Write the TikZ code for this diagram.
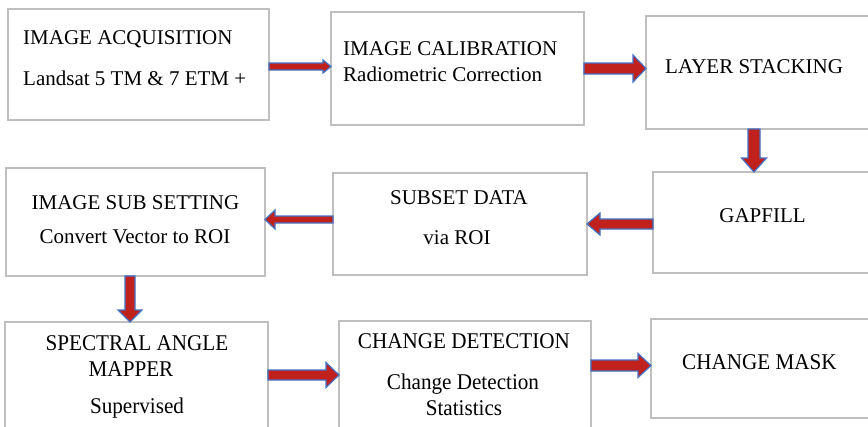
\documentclass[tikz,border=0pt]{standalone}
\usepackage{fontspec}
\setmainfont{Liberation Serif}
\newfontfamily\condfont[FakeStretch=0.94]{Liberation Serif}
\usetikzlibrary{calc}
\definecolor{arrred}{RGB}{192,33,28}
\definecolor{arrblue}{RGB}{68,114,196}
\definecolor{boxgray}{RGB}{191,191,191}
\tikzset{
  box/.style={draw=boxgray, line width=1.2pt, inner sep=0pt, outer sep=0pt, anchor=north west},
  txt/.style={inner sep=0pt, font=\fontsize{21}{25}\selectfont},
  btxt/.style={inner sep=0pt, font=\condfont\fontsize{22.5}{26}\selectfont},
  blk/.style n args={3}{fill=arrred, draw=arrblue, line width=1.2pt, line join=miter,
    to path={
      ($(\tikztostart)!#1!90:(\tikztotarget)$)
      -- ($($(\tikztotarget)!#3!(\tikztostart)$)!#1!90:(\tikztotarget)$)
      -- ($($(\tikztotarget)!#3!(\tikztostart)$)!#2!90:(\tikztotarget)$)
      -- (\tikztotarget)
      -- ($($(\tikztotarget)!#3!(\tikztostart)$)!#2!-90:(\tikztotarget)$)
      -- ($($(\tikztotarget)!#3!(\tikztostart)$)!#1!-90:(\tikztotarget)$)
      -- ($(\tikztostart)!#1!-90:(\tikztotarget)$)
      -- cycle
    }}
}
\begin{document}
\begin{tikzpicture}[x=1pt,y=-1pt]
\useasboundingbox (0,0) rectangle (868,426);
\clip (0,0) rectangle (868,426);
% boxes
\node[box, minimum width=261pt, minimum height=111pt] (b1) at (8,9) {};
\node[box, minimum width=253pt, minimum height=113pt] (b2) at (331,12) {};
\node[box, minimum width=260pt, minimum height=113pt] (b3) at (646,16) {};
\node[box, minimum width=250pt, minimum height=101pt] (b4) at (653,172) {};
\node[box, minimum width=254pt, minimum height=102pt] (b5) at (333,173) {};
\node[box, minimum width=259pt, minimum height=108pt] (b6) at (6,168) {};
\node[box, minimum width=263pt, minimum height=106pt] (b7) at (5,322) {};
\node[box, minimum width=252pt, minimum height=120pt] (b8) at (339,321) {};
\node[box, minimum width=250pt, minimum height=99pt] (b9) at (651,319) {};
% texts
\node[txt, anchor=base west] (t1a) at (23,44) {IMAGE ACQUISITION};
\node[txt, anchor=base west] (t1b) at (23,85) {Landsat 5 TM \& 7 ETM +};
\node[txt, anchor=base west] (t2a) at (343,55) {IMAGE CALIBRATION};
\node[txt, anchor=base west] (t2b) at (343,81) {Radiometric Correction};
\node[txt, anchor=base west] (t3) at (665,73) {LAYER STACKING};
\node[txt, anchor=base] (t4) at (762.5,222) {GAPFILL};
\node[txt, anchor=base] (t5a) at (459,204) {SUBSET DATA};
\node[txt, anchor=base] (t5b) at (457,244) {via ROI};
\node[txt, anchor=base] (t6a) at (135.5,209) {IMAGE SUB SETTING};
\node[txt, anchor=base] (t6b) at (135,243) {Convert Vector to ROI};
\node[btxt, anchor=base] (t7a) at (137,350) {SPECTRAL ANGLE};
\node[btxt, anchor=base] (t7b) at (131,376) {MAPPER};
\node[btxt, anchor=base] (t7c) at (137,413) {Supervised};
\node[btxt, anchor=base] (t8a) at (464,348) {CHANGE DETECTION};
\node[btxt, anchor=base] (t8b) at (463,389) {Change Detection};
\node[btxt, anchor=base] (t8c) at (464,415) {Statistics};
\node[btxt, anchor=base west] (t9) at (682,369) {CHANGE MASK};
% arrows
\draw[blk={3.5pt}{6.5pt}{8pt}, transform canvas={yshift=-2pt}] (b1.east) to (b1.east -| b2.west);
\draw[blk={5.5pt}{13.5pt}{13pt}] (b2.east) to (b2.east -| b3.west);
\draw[blk={6pt}{12.5pt}{14pt}, transform canvas={xshift=108pt}] (b3.south west) to (b3.south west |- b4.north);
\draw[blk={5pt}{11pt}{13pt}, transform canvas={yshift=-1.5pt}] (b4.west) to (b4.west -| b5.east);
\draw[blk={3.5pt}{9.5pt}{10pt}, transform canvas={yshift=4.5pt}] (b5.west) to (b5.west -| b6.east);
\draw[blk={5pt}{12pt}{12pt}, transform canvas={xshift=-5.5pt}] (b6.south) to (b6.south |- b7.north);
\draw[blk={5pt}{12.5pt}{13pt}] (b7.east) to (b7.east -| b8.west);
\draw[blk={5.5pt}{12pt}{13pt}, transform canvas={yshift=3pt}] (b9.west -| b8.east) to (b9.west);
\end{tikzpicture}
\end{document}
